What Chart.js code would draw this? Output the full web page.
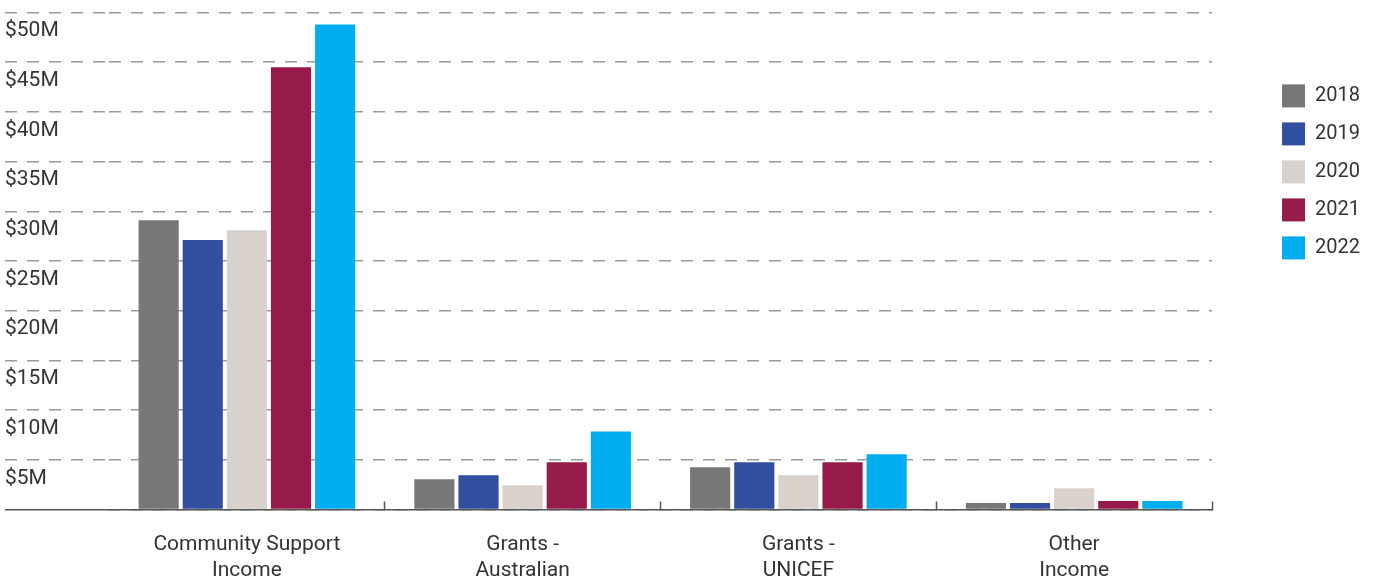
<!DOCTYPE html>
<html>
<head>
<meta charset="utf-8">
<script src="https://cdn.jsdelivr.net/npm/chart.js@4"></script>
<style>
  html, body { margin: 0; padding: 0; background: #fff; }
  #wrap { width: 1384px; height: 577px; }
</style>
</head>
<body>
<div id="wrap"><canvas id="incomeChart"></canvas></div>
<script>
const categories = [['Community Support', 'Income'], ['Grants -', 'Australian'], ['Grants -', 'UNICEF'], ['Other', 'Income']];
const years = ['2018', '2019', '2020', '2021', '2022'];
const colors = ['#77777a', '#314e9f', '#d9d1cb', '#961a4a', '#00aeef'];

// $ millions
const income2018 = [29.1, 3.05, 4.25, 0.65];
const income2019 = [27.1, 3.45, 4.75, 0.65];
const income2020 = [28.1, 2.45, 3.45, 2.15];
const income2021 = [44.5, 4.75, 4.75, 0.85];
const income2022 = [48.8, 7.85, 5.55, 0.85];

const yTicks = [0, 5, 10, 15, 20, 25, 30, 35, 40, 45, 50];

const seriesValues = [income2018, income2019, income2020, income2021, income2022];
const fontFamily = 'Roboto, "Helvetica Neue", Arial, sans-serif';

document.addEventListener('DOMContentLoaded', function() {
    const ctx = document.getElementById('incomeChart').getContext('2d');
    new Chart(ctx, {
        type: 'bar',
        data: {
            labels: categories,
            datasets: years.map((y, i) => ({
                label: y,
                data: seriesValues[i],
                backgroundColor: colors[i],
                borderWidth: 0,
                categoryPercentage: 0.8,
                barPercentage: 0.91
            }))
        },
        options: {
            responsive: true,
            maintainAspectRatio: false,
            animation: false,
            layout: { padding: { left: 5, top: 0, right: 14, bottom: 0 } },
            scales: {
                x: {
                    grid: {
                        offset: true,
                        drawOnChartArea: false,
                        drawTicks: true,
                        tickLength: -8,
                        tickWidth: 1.5,
                        tickColor: c => c.index === 0 ? 'rgba(0,0,0,0)' : '#555'
                    },
                    border: { display: true, color: '#555', width: 1.5, z: 1 },
                    ticks: {
                        color: '#333',
                        font: { family: fontFamily, size: 21, weight: 400, lineHeight: 1.24 },
                        padding: 30,
                        maxRotation: 0
                    },
                    afterFit: s => { s.height = 67.5; }
                },
                y: {
                    min: 0,
                    max: 50,
                    afterBuildTicks: s => { s.ticks = yTicks.map(v => ({ value: v })); },
                    grid: {
                        color: '#9a9a9a',
                        lineWidth: 1.5,
                        drawTicks: true,
                        tickLength: 104,
                        tickColor: c => c.tick && c.tick.value === 0 ? '#555' : '#9a9a9a',
                        tickBorderDash: c => c.tick && c.tick.value === 0 ? [] : [12, 10]
                    },
                    border: { display: false, dash: [12, 10] },
                    ticks: {
                        crossAlign: 'far',
                        labelOffset: 18.5,
                        color: '#333',
                        font: { family: fontFamily, size: 21, weight: 400, lineHeight: 0.9 },
                        callback: v => v === 0 ? '' : '$' + v + 'M'
                    },
                    afterFit: s => { s.width = 104; }
                },
                gap: {
                    position: 'right',
                    display: true,
                    grid: { display: false },
                    border: { display: false },
                    ticks: { display: false },
                    afterFit: s => { s.width = 55; }
                }
            },
            plugins: {
                legend: {
                    position: 'right',
                    align: 'start',
                    title: { display: true, text: '', padding: { top: 55, bottom: 0 } },
                    labels: {
                        boxWidth: 23,
                        boxHeight: 23,
                        padding: 15,
                        color: '#333',
                        font: { family: fontFamily, size: 20, weight: 400 }
                    }
                },
                tooltip: { enabled: false }
            }
        }
    });
});
</script>
</body>
</html>
